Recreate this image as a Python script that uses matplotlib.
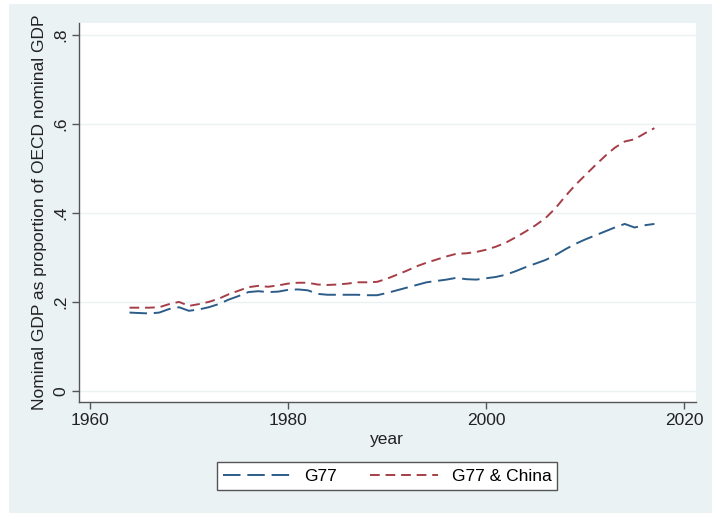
import matplotlib
matplotlib.use("Agg")
import matplotlib.pyplot as plt
from matplotlib.patches import Rectangle

plt.rcParams['font.family'] = ['Liberation Sans', 'DejaVu Sans']

years = list(range(1964, 2018))

# G77 share of OECD nominal GDP
g77 = [0.176, 0.175, 0.174, 0.176, 0.184, 0.188, 0.180, 0.183, 0.188, 0.195,
       0.205, 0.213, 0.222, 0.224, 0.222, 0.223, 0.227, 0.228, 0.226, 0.218,
       0.216, 0.216, 0.216, 0.216, 0.215, 0.215, 0.220, 0.226, 0.232, 0.238,
       0.244, 0.247, 0.250, 0.254, 0.251, 0.250, 0.253, 0.256, 0.261, 0.269,
       0.278, 0.286, 0.294, 0.305, 0.318, 0.330, 0.340, 0.349, 0.358, 0.367,
       0.375, 0.367, 0.372, 0.375]

# G77 + China
g77_china = [0.187, 0.187, 0.187, 0.188, 0.195, 0.200, 0.191, 0.195, 0.200, 0.207,
             0.217, 0.225, 0.233, 0.236, 0.234, 0.237, 0.241, 0.243, 0.243, 0.239,
             0.238, 0.239, 0.241, 0.244, 0.244, 0.245, 0.252, 0.261, 0.270, 0.280,
             0.288, 0.295, 0.302, 0.308, 0.309, 0.312, 0.317, 0.324, 0.333, 0.345,
             0.358, 0.372, 0.388, 0.410, 0.437, 0.462, 0.484, 0.506, 0.527, 0.546,
             0.560, 0.565, 0.578, 0.590]

x_ticks = [1960, 1980, 2000, 2020]
y_ticks = [0, 0.2, 0.4, 0.6, 0.8]
y_tick_labels = ["0", ".2", ".4", ".6", ".8"]

bg = '#eaf2f3'
blue = '#2c5c88'
red = '#a63e48'
fs = 12.5

fig = plt.figure(figsize=(7.12, 5.15), dpi=100)
fig.patch.set_facecolor('white')
# Stata-like outer panel
fig.patches.append(Rectangle((9 / 712, 0.004), 1 - 9 / 712, 1 - 4 / 515 - 0.004,
                             transform=fig.transFigure, facecolor=bg,
                             edgecolor='none', zorder=-10))

ax = fig.add_axes([79 / 712, 113 / 515, (695.5 - 79) / 712, (402 - 23) / 515])
ax.set_facecolor('white')

ax.plot(years, g77, color=blue, lw=1.4, dashes=(9, 3.5), label='G77')
ax.plot(years, g77_china, color=red, lw=1.4, dashes=(5, 3), label='G77 & China')

ax.set_xlim(1958.9, 2021.15)
ax.set_ylim(-0.0247, 0.826)
ax.set_xticks(x_ticks)
ax.set_yticks(y_ticks)
ax.set_yticklabels(y_tick_labels, rotation=90, va='center')

for y in y_ticks:
    ax.axhline(y, color=bg, lw=1.0, zorder=0)

for side in ['top', 'right']:
    ax.spines[side].set_visible(False)
for side in ['left', 'bottom']:
    ax.spines[side].set_color('#555555')
    ax.spines[side].set_linewidth(1.0)

ax.tick_params(axis='both', direction='out', length=5, width=1.0,
               color='#555555', labelsize=fs, labelcolor='#222222', pad=3)

ax.set_xlabel('year', fontsize=fs, color='#222222', labelpad=3)
ax.set_ylabel('Nominal GDP as proportion of OECD nominal GDP', fontsize=fs,
              color='#222222', labelpad=4)

handles, labels = ax.get_legend_handles_labels()
leg = fig.legend(handles, labels, loc='center', bbox_to_anchor=(0.5435, 0.0757),
                 ncol=2, fontsize=fs, frameon=True, fancybox=False,
                 edgecolor='#555555', facecolor='white', framealpha=1,
                 handlelength=3.9, handletextpad=0.8, columnspacing=1.9,
                 borderpad=0.35, borderaxespad=0)
leg.get_frame().set_linewidth(1.0)

fig.savefig('out.png', dpi=100, facecolor=fig.get_facecolor())
